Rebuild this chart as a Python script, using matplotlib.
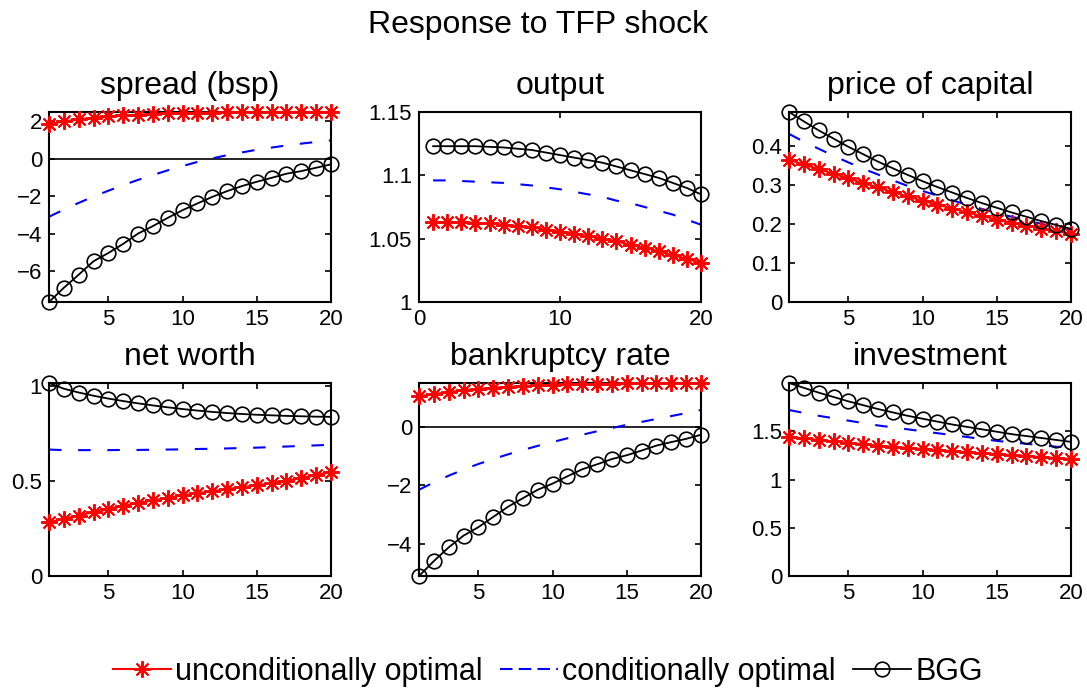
import matplotlib

matplotlib.use("Agg")
import matplotlib.pyplot as plt
from matplotlib.ticker import FuncFormatter

plt.rcParams["font.family"] = ["Liberation Sans", "DejaVu Sans"]

periods = list(range(1, 21))

panel_titles = [
    "spread (bsp)",
    "output",
    "price of capital",
    "net worth",
    "bankruptcy rate",
    "investment",
]

# unconditionally optimal policy
spread_unc = [1.85, 2.0, 2.1, 2.2, 2.27, 2.32, 2.36, 2.4, 2.42, 2.44,
              2.46, 2.47, 2.48, 2.49, 2.5, 2.5, 2.5, 2.5, 2.5, 2.5]
output_unc = [1.063, 1.063, 1.063, 1.0625, 1.062, 1.061, 1.06, 1.059, 1.057, 1.0555,
              1.054, 1.052, 1.05, 1.048, 1.045, 1.043, 1.04, 1.037, 1.034, 1.031]
price_unc = [0.364, 0.352, 0.34, 0.328, 0.316, 0.304, 0.293, 0.281, 0.27, 0.259,
             0.249, 0.239, 0.229, 0.22, 0.211, 0.203, 0.195, 0.188, 0.181, 0.175]
networth_unc = [0.283, 0.30, 0.318, 0.336, 0.353, 0.369, 0.384, 0.398, 0.411, 0.424,
                0.435, 0.446, 0.457, 0.467, 0.477, 0.489, 0.502, 0.515, 0.53, 0.548]
bankrupt_unc = [1.05, 1.12, 1.19, 1.25, 1.3, 1.34, 1.37, 1.4, 1.42, 1.44,
                1.45, 1.46, 1.47, 1.48, 1.49, 1.49, 1.5, 1.5, 1.5, 1.5]
invest_unc = [1.44, 1.425, 1.41, 1.395, 1.38, 1.365, 1.352, 1.34, 1.328, 1.316,
              1.305, 1.294, 1.283, 1.272, 1.262, 1.252, 1.242, 1.232, 1.222, 1.212]

# conditionally optimal policy
spread_cond = [-3.1, -2.72, -2.36, -2.02, -1.71, -1.41, -1.13, -0.87, -0.62, -0.39,
               -0.17, 0.02, 0.19, 0.34, 0.48, 0.6, 0.71, 0.81, 0.9, 0.98]
output_cond = [1.096, 1.096, 1.0955, 1.095, 1.0945, 1.094, 1.093, 1.092, 1.0905, 1.089,
               1.087, 1.085, 1.083, 1.08, 1.078, 1.075, 1.072, 1.069, 1.065, 1.061]
price_cond = [0.43, 0.41, 0.392, 0.374, 0.357, 0.341, 0.326, 0.311, 0.297, 0.284,
              0.272, 0.26, 0.249, 0.238, 0.228, 0.218, 0.209, 0.2, 0.192, 0.184]
networth_cond = [0.665, 0.662, 0.662, 0.662, 0.662, 0.663, 0.663, 0.664, 0.665, 0.666,
                 0.668, 0.669, 0.671, 0.673, 0.675, 0.678, 0.681, 0.684, 0.687, 0.69]
bankrupt_cond = [-2.15, -1.9, -1.67, -1.46, -1.27, -1.1, -0.94, -0.79, -0.65, -0.52,
                 -0.39, -0.27, -0.15, -0.04, 0.07, 0.17, 0.27, 0.37, 0.47, 0.58]
invest_cond = [1.72, 1.69, 1.66, 1.635, 1.61, 1.585, 1.56, 1.54, 1.52, 1.5,
               1.48, 1.46, 1.44, 1.42, 1.4, 1.385, 1.37, 1.355, 1.34, 1.33]

# BGG benchmark
spread_bgg = [-7.66, -6.9, -6.2, -5.48, -5.04, -4.55, -4.0, -3.6, -3.16, -2.75,
              -2.39, -2.04, -1.73, -1.46, -1.23, -1.02, -0.8, -0.66, -0.48, -0.3]
output_bgg = [1.123, 1.123, 1.123, 1.123, 1.1225, 1.122, 1.121, 1.12, 1.118, 1.116,
              1.114, 1.112, 1.11, 1.107, 1.104, 1.101, 1.098, 1.094, 1.09, 1.085]
price_bgg = [0.486, 0.462, 0.439, 0.418, 0.397, 0.378, 0.359, 0.342, 0.325, 0.309,
             0.294, 0.280, 0.266, 0.253, 0.241, 0.229, 0.218, 0.207, 0.197, 0.187]
networth_bgg = [1.015, 0.985, 0.965, 0.948, 0.933, 0.92, 0.908, 0.897, 0.887, 0.878,
                0.87, 0.863, 0.857, 0.852, 0.848, 0.845, 0.842, 0.84, 0.838, 0.837]
bankrupt_bgg = [-5.1, -4.59, -4.12, -3.72, -3.43, -3.08, -2.73, -2.44, -2.15, -1.94,
                -1.69, -1.45, -1.28, -1.1, -0.97, -0.81, -0.64, -0.52, -0.41, -0.27]
invest_bgg = [2.0, 1.95, 1.9, 1.855, 1.81, 1.77, 1.73, 1.695, 1.66, 1.63,
              1.6, 1.57, 1.545, 1.52, 1.495, 1.47, 1.45, 1.43, 1.41, 1.39]

series_unc = [spread_unc, output_unc, price_unc, networth_unc, bankrupt_unc, invest_unc]
series_cond = [spread_cond, output_cond, price_cond, networth_cond, bankrupt_cond, invest_cond]
series_bgg = [spread_bgg, output_bgg, price_bgg, networth_bgg, bankrupt_bgg, invest_bgg]

y_limits = [(-7.66, 2.5), (1.0, 1.15), (0, 0.486), (0, 1.015), (-5.1, 1.5), (0, 2.0)]
y_ticks = [[-6, -4, -2, 0, 2], [1, 1.05, 1.1, 1.15], [0, 0.1, 0.2, 0.3, 0.4],
           [0, 0.5, 1], [-4, -2, 0], [0, 0.5, 1, 1.5]]
x_limits = [(1, 20), (0, 20), (1, 20), (1, 20), (1, 20), (1, 20)]
x_ticks = [[5, 10, 15, 20], [0, 10, 20], [5, 10, 15, 20],
           [5, 10, 15, 20], [5, 10, 15, 20], [5, 10, 15, 20]]
zero_line = [True, False, False, False, True, False]

W, H = 1087, 696
col_left = [49, 419, 789]
row_box = [(112, 302), (383, 576)]
ax_w = 282

star = (8, 2, 0)


def fmt(v, _pos):
    return ("%g" % v).replace("-", "\u2212")


fig = plt.figure(figsize=(W / 100, H / 100), dpi=100)

for i in range(6):
    r, c = divmod(i, 3)
    top, bottom = row_box[r]
    ax = fig.add_axes([col_left[c] / W, 1 - bottom / H, ax_w / W, (bottom - top) / H])

    if zero_line[i]:
        ax.axhline(0, color="black", lw=1.2, zorder=1)

    ax.plot(periods, series_unc[i], color="red", lw=1.5, marker=star,
            markersize=12, markeredgewidth=1.4, clip_on=False, zorder=3)
    ax.plot(periods, series_cond[i], color="blue", lw=1.5, ls=(0, (6, 8)),
            clip_on=False, zorder=2)
    ax.plot(periods, series_bgg[i], color="black", lw=1.3, marker="o",
            markersize=10.5, markerfacecolor="none", markeredgewidth=1.2,
            clip_on=False, zorder=4)

    ax.set_xlim(*x_limits[i])
    ax.set_ylim(*y_limits[i])
    ax.set_xticks(x_ticks[i])
    ax.set_yticks(y_ticks[i])
    ax.yaxis.set_major_formatter(FuncFormatter(fmt))
    ax.xaxis.set_major_formatter(FuncFormatter(fmt))
    ax.tick_params(direction="in", length=4, width=1.2, labelsize=16,
                   top=True, right=True, pad=5)
    for s in ax.spines.values():
        s.set_linewidth(1.5)
    ax.set_title(panel_titles[i], fontsize=23, pad=13)

fig.text(0.495, 1 - 33 / H, "Response to TFP shock", ha="center",
         va="baseline", fontsize=23)

handles = [
    plt.Line2D([], [], color="red", lw=1.5, marker=star, markersize=12,
               markeredgewidth=1.4),
    plt.Line2D([], [], color="blue", lw=1.5, ls=(0, (6, 3))),
    plt.Line2D([], [], color="black", lw=1.3, marker="o", markersize=10.5,
               markerfacecolor="none", markeredgewidth=1.2),
]
labels = ["unconditionally optimal", "conditionally optimal", "BGG"]
fig.legend(handles, labels, loc="center", bbox_to_anchor=(0.504, 1 - 672 / H),
           ncol=3, frameon=False, fontsize=22, handlelength=1.9,
           handletextpad=0.15, columnspacing=0.55)

fig.savefig("out.png", dpi=100, facecolor="white")
